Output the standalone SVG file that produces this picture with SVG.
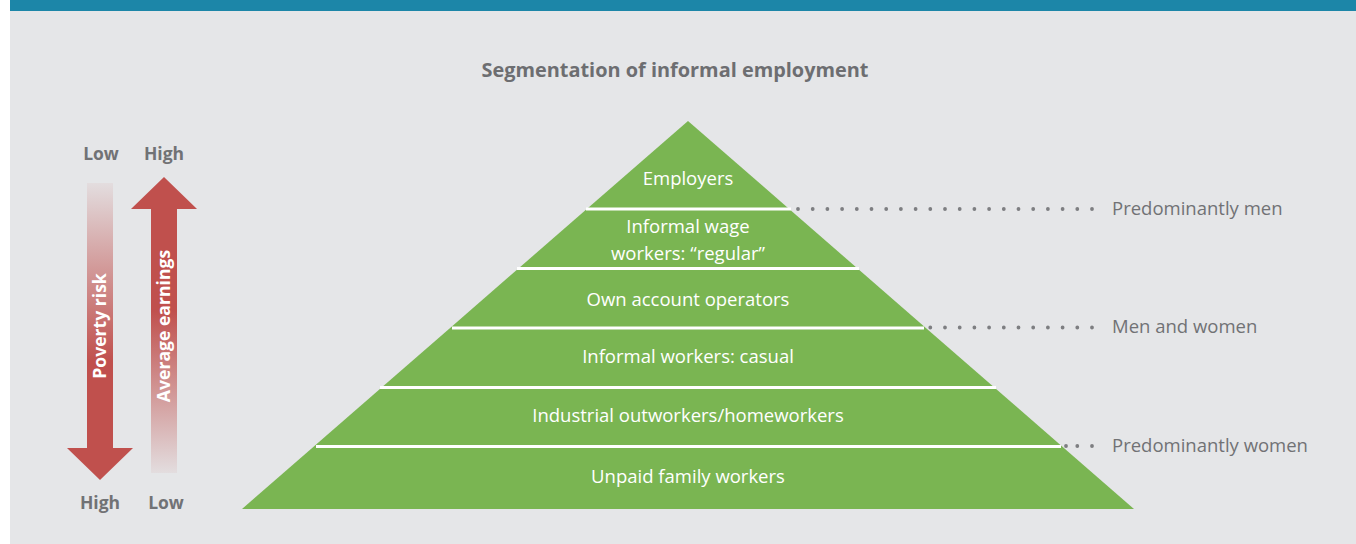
<svg xmlns="http://www.w3.org/2000/svg" width="1356" height="544" viewBox="0 0 1356 544">
<style>
.tier{fill:#7ab552}
.tl{font-family:"Open Sans","Liberation Sans",sans-serif;font-size:18.5px;fill:#ffffff;text-anchor:middle}
.sep{stroke:#ffffff;stroke-width:3}
.dots{stroke:#7d7e81;stroke-width:3.8;stroke-linecap:round;stroke-dasharray:0 14.7;fill:none}
.side{font-family:"Open Sans","Liberation Sans",sans-serif;font-size:18.5px;fill:#717275}
.ax{font-family:"Open Sans","Liberation Sans",sans-serif;font-size:17.5px;font-weight:bold;fill:#717275;text-anchor:middle}
.at{font-family:"Open Sans","Liberation Sans",sans-serif;font-size:17.6px;font-weight:bold;fill:#ffffff;text-anchor:middle}
</style>
<defs>
<linearGradient id="gDown" gradientUnits="userSpaceOnUse" x1="0" y1="183" x2="0" y2="480">
<stop offset="0" stop-color="#c0504d" stop-opacity="0.06"/>
<stop offset="0.6" stop-color="#c0504d" stop-opacity="1"/>
<stop offset="1" stop-color="#c0504d" stop-opacity="1"/>
</linearGradient>
<linearGradient id="gUp" gradientUnits="userSpaceOnUse" x1="0" y1="473" x2="0" y2="177">
<stop offset="0" stop-color="#c0504d" stop-opacity="0.06"/>
<stop offset="0.55" stop-color="#c0504d" stop-opacity="1"/>
<stop offset="1" stop-color="#c0504d" stop-opacity="1"/>
</linearGradient>
</defs>
<rect x="0" y="0" width="1356" height="544" fill="#ffffff"/>
<rect x="10" y="0" width="1346" height="544" fill="#e5e6e8"/>
<rect x="10" y="0" width="1346" height="11" fill="#1c86a8"/>
<text x="675" y="77" font-family="'Open Sans','Liberation Sans',sans-serif" font-size="19.9" font-weight="bold" fill="#6d6e71" text-anchor="middle">Segmentation of informal employment</text>

<g id="axis-poverty">
<path d="M87,183 H113 V448 H133 L100,480 L67,448 H87 Z" fill="url(#gDown)"/>
<text class="at" transform="translate(106,326) rotate(-90)">Poverty risk</text>
<text class="ax" x="101" y="160">Low</text>
<text class="ax" x="100" y="509">High</text>
</g>
<g id="axis-earnings">
<path d="M151,473 H177 V209 H197 L164,177 L131,209 H151 Z" fill="url(#gUp)"/>
<text class="at" transform="translate(170,326) rotate(-90)">Average earnings</text>
<text class="ax" x="164" y="160">High</text>
<text class="ax" x="166" y="509">Low</text>
</g>

<g id="tier-employers">
<polygon class="tier" points="688,121 789.2,209 586.8,209"/>
<text class="tl" x="688" y="185">Employers</text>
</g>
<g id="tier-wage-regular">
<polygon class="tier" points="586.8,209 789.2,209 857,268 519,268"/>
<text class="tl" x="688" y="233">Informal wage</text>
<text class="tl" x="688" y="260">workers: “regular”</text>
</g>
<g id="tier-own-account">
<polygon class="tier" points="519,268 857,268 925.9,328 450.1,328"/>
<text class="tl" x="688" y="306">Own account operators</text>
</g>
<g id="tier-casual">
<polygon class="tier" points="450.1,328 925.9,328 993.8,387 382.2,387"/>
<text class="tl" x="688" y="363">Informal workers: casual</text>
</g>
<g id="tier-outworkers">
<polygon class="tier" points="382.2,387 993.8,387 1061.6,446 314.4,446"/>
<text class="tl" x="688" y="422">Industrial outworkers/homeworkers</text>
</g>
<g id="tier-unpaid">
<polygon class="tier" points="314.4,446 1061.6,446 1134,509 242,509"/>
<text class="tl" x="688" y="483">Unpaid family workers</text>
</g>
<g id="separators">
<line class="sep" x1="586" y1="209" x2="791" y2="209"/>
<line class="sep" x1="517" y1="268.5" x2="859" y2="268.5"/>
<line class="sep" x1="452" y1="328" x2="924" y2="328"/>
<line class="sep" x1="380" y1="387.5" x2="996" y2="387.5"/>
<line class="sep" x1="316" y1="446.5" x2="1061" y2="446.5"/>
</g>

<g id="connectors">
<line class="dots" x1="1092" y1="209" x2="792" y2="209"/>
<line class="dots" x1="1092" y1="327.5" x2="928" y2="327.5"/>
<line class="dots" x1="1092" y1="446" x2="1064" y2="446"/>
<circle cx="1066" cy="446" r="1.9" fill="#7d7e81"/>
</g>
<g id="label-men">
<text class="side" x="1112" y="215">Predominantly men</text>
</g>
<g id="label-both">
<text class="side" x="1112" y="333">Men and women</text>
</g>
<g id="label-women">
<text class="side" x="1112" y="452">Predominantly women</text>
</g>
</svg>
